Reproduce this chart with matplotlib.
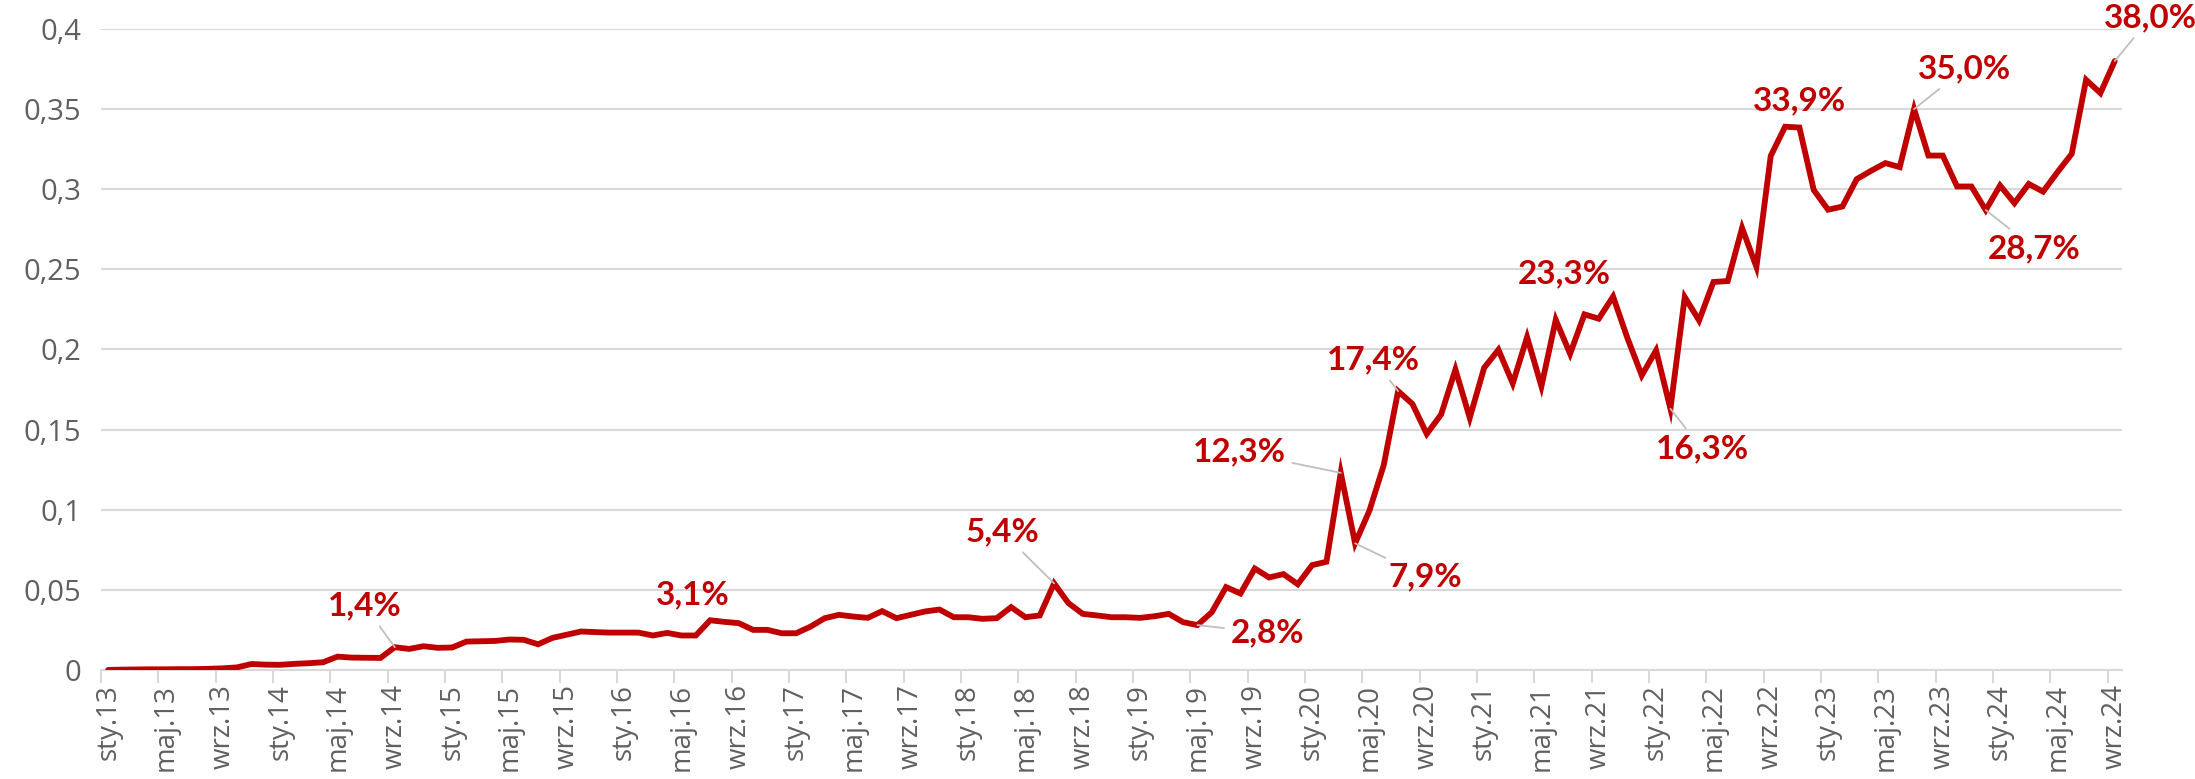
from matplotlib import pyplot as plt
from matplotlib.ticker import FixedLocator, FuncFormatter

# monthly share, Jan 2013 .. Sep 2024
month_names = ["sty", "lut", "mar", "kwi", "maj", "cze",
               "lip", "sie", "wrz", "paź", "lis", "gru"]
start_year = 13
share = [
    0.0000, 0.0002, 0.0003, 0.0004, 0.0004, 0.0005, 0.0005, 0.0007, 0.0010, 0.0016,
    0.0037, 0.0033, 0.0032, 0.0038, 0.0042, 0.0048, 0.0083, 0.0077, 0.0076, 0.0075,
    0.0142, 0.0131, 0.0148, 0.0138, 0.0140, 0.0177, 0.0179, 0.0181, 0.0190, 0.0188,
    0.0160, 0.0200, 0.0220, 0.0240, 0.0236, 0.0233, 0.0233, 0.0233, 0.0215, 0.0231,
    0.0215, 0.0215, 0.0310, 0.0300, 0.0292, 0.0250, 0.0250, 0.0229, 0.0229, 0.0270,
    0.0323, 0.0344, 0.0333, 0.0325, 0.0367, 0.0323, 0.0344, 0.0365, 0.0377, 0.0329,
    0.0329, 0.0319, 0.0323, 0.0392, 0.0329, 0.0340, 0.0540, 0.0417, 0.0350, 0.0340,
    0.0329, 0.0329, 0.0325, 0.0335, 0.0350, 0.0298, 0.0280, 0.0360, 0.0517, 0.0477,
    0.0633, 0.0577, 0.0598, 0.0535, 0.0654, 0.0675, 0.1230, 0.0790, 0.0994, 0.1279,
    0.1740, 0.1660, 0.1473, 0.1594, 0.1875, 0.1573, 0.1885, 0.1998, 0.1788, 0.2077,
    0.1770, 0.2185, 0.1973, 0.2219, 0.2192, 0.2330, 0.2071, 0.1838, 0.1994, 0.1630,
    0.2327, 0.2181, 0.2421, 0.2427, 0.2758, 0.2515, 0.3208, 0.3390, 0.3385, 0.2995,
    0.2872, 0.2892, 0.3063, 0.3115, 0.3163, 0.3138, 0.3500, 0.3210, 0.3210, 0.3017,
    0.3017, 0.2870, 0.3023, 0.2913, 0.3033, 0.2985, 0.3106, 0.3221, 0.3683, 0.3600,
    0.3800,
]

# labelled points (index into share)
label_idx = [20, 42, 66, 76, 86, 87, 90, 105, 109, 117, 126, 131, 140]

# where each label sits (x in months, y in share units) and whether it has a leader
label_xy = [(17.9, 0.040), (40.8, 0.047), (62.4, 0.086), (80.9, 0.023),
            (78.9, 0.136), (91.9, 0.058), (88.3, 0.1935), (101.6, 0.247),
            (111.2, 0.138), (118.0, 0.355), (129.5, 0.375), (134.4, 0.263),
            (142.5, 0.407)]
has_leader = [True, False, True, True, True, True, True, False,
              True, False, True, True, True]

RED = "#C00000"
GRID = "#D9D9D9"
TXT = "#606060"

x = list(range(len(share)))
tick_pos = x[::4]
tick_labels = [f"{month_names[i % 12]}.{start_year + i // 12}" for i in tick_pos]

fig = plt.figure(figsize=(21.95, 7.79), dpi=100)
ax = fig.add_axes([0.046, 0.140, 0.9207, 0.8228])

ax.plot(x, share, color=RED, linewidth=4.2, solid_joinstyle="miter",
        solid_capstyle="round", zorder=3)

ax.set_xlim(-0.5, len(share) - 0.5)
ax.set_ylim(0, 0.4)
ax.set_yticks([i * 0.05 for i in range(9)])
ax.yaxis.set_major_formatter(
    FuncFormatter(lambda v, _: f"{v:.2f}".rstrip("0").rstrip(".").replace(".", ",")))
ax.grid(axis="y", color=GRID, linewidth=1.5)
ax.set_axisbelow(True)

ax.xaxis.set_major_locator(FixedLocator(tick_pos))
ax.set_xticklabels(tick_labels, rotation=90)
ax.xaxis.set_minor_locator(FixedLocator([p - 0.5 for p in tick_pos]))
ax.tick_params(axis="x", which="major", length=0, pad=10, labelsize=20,
               labelcolor=TXT)
ax.tick_params(axis="x", which="minor", length=9, width=1.5, color=GRID,
               direction="out")
ax.tick_params(axis="y", length=0, pad=14, labelsize=21, labelcolor=TXT)
for lab in ax.get_xticklabels() + ax.get_yticklabels():
    lab.set_fontfamily("Open Sans")

for side in ["top", "right", "left"]:
    ax.spines[side].set_visible(False)
ax.spines["bottom"].set_color(GRID)
ax.spines["bottom"].set_linewidth(1.5)

for idx, (lx, ly), lead in zip(label_idx, label_xy, has_leader):
    text = f"{share[idx] * 100:.1f}%".replace(".", ",")
    arrow = None
    if lead:
        arrow = dict(arrowstyle="-", color="#BFBFBF", lw=1.3,
                     shrinkA=3, shrinkB=0)
    ax.annotate(text, xy=(idx, share[idx]), xytext=(lx, ly),
                textcoords="data", ha="center", va="center",
                fontsize=24, fontweight="bold", fontfamily="Lato",
                color=RED, arrowprops=arrow, annotation_clip=False, zorder=4)

plt.savefig("out.png", dpi=100)
